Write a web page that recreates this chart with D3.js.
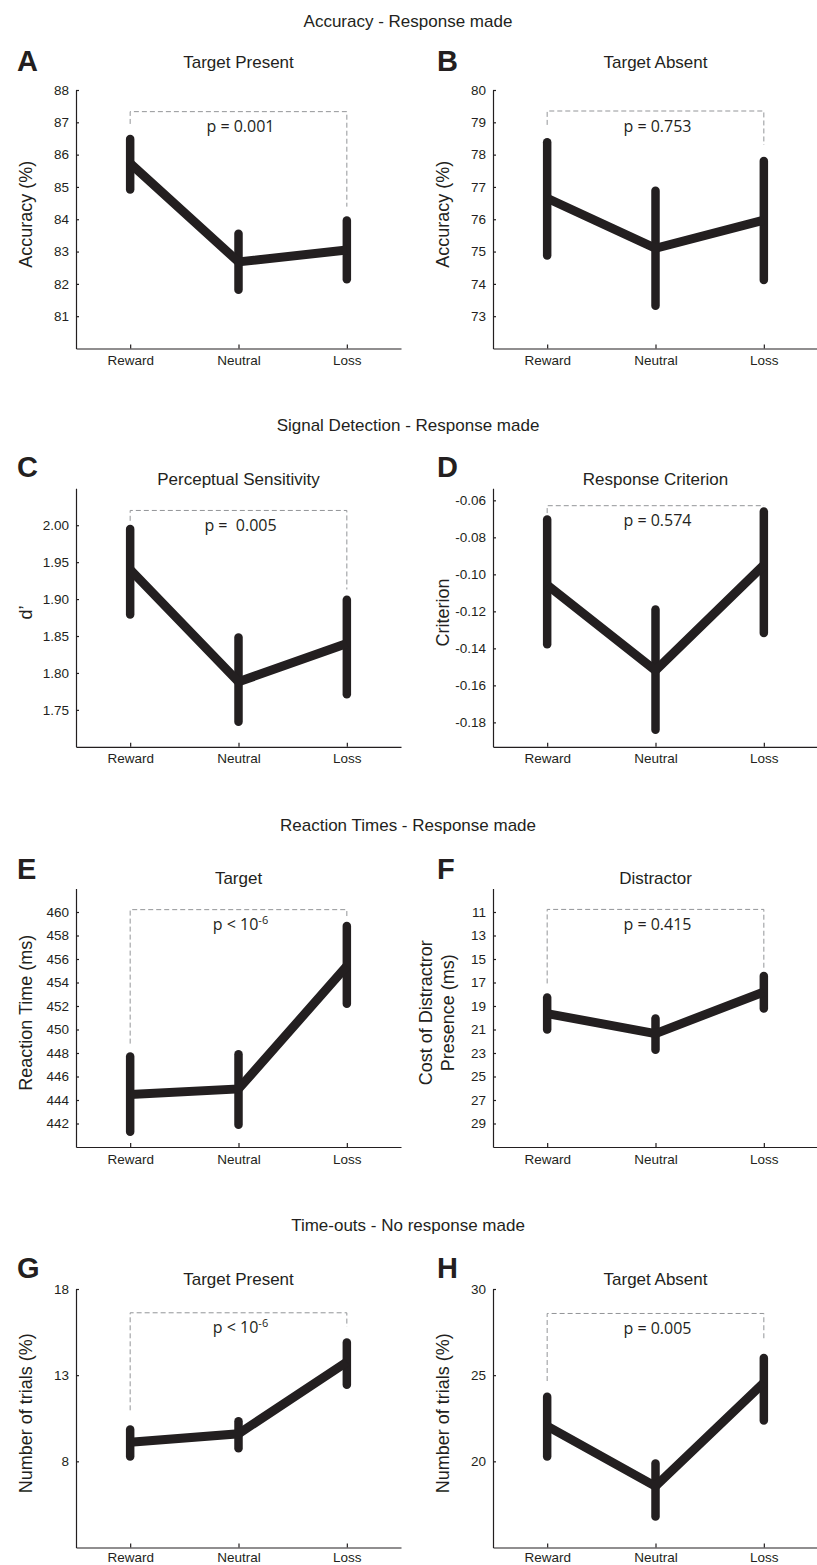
<!DOCTYPE html>
<html>
<head>
<meta charset="utf-8">
<script src="https://cdn.jsdelivr.net/npm/d3@7"></script>
<style>
  body { margin: 0; background: #fff; }
  svg text { font-family: "Liberation Sans", Arial, Helvetica, sans-serif; fill: #231f20; }
  svg text.ptext { font-family: "Open Sans", "Noto Sans", sans-serif; white-space: pre; }
</style>
</head>
<body>
<div id="chart"></div>
<script>
// ---- data ----
var conditions = ["Reward", "Neutral", "Loss"];

var sectionTitles = ["Accuracy - Response made", "Signal Detection - Response made",
                     "Reaction Times - Response made", "Time-outs - No response made"];

var panelLetters = ["A", "B", "C", "D", "E", "F", "G", "H"];
var panelTitles = ["Target Present", "Target Absent", "Perceptual Sensitivity", "Response Criterion",
                   "Target", "Distractor", "Target Present", "Target Absent"];
var yLabels = [["Accuracy (%)"], ["Accuracy (%)"], ["d\u2019"], ["Criterion"],
               ["Reaction Time (ms)"], ["Cost of Distractror", "Presence (ms)"],
               ["Number of trials (%)"], ["Number of trials (%)"]];

// F axis runs downwards (larger cost lower)
var yDomains = [[80, 88], [72, 80], [1.70, 2.05], [-0.1932, -0.0535],
                [440, 462], [31, 9], [3, 18], [15, 30]];

var yTicks = [
  [81, 82, 83, 84, 85, 86, 87, 88],
  [73, 74, 75, 76, 77, 78, 79, 80],
  [1.75, 1.80, 1.85, 1.90, 1.95, 2.00],
  [-0.18, -0.16, -0.14, -0.12, -0.10, -0.08, -0.06],
  [442, 444, 446, 448, 450, 452, 454, 456, 458, 460],
  [11, 13, 15, 17, 19, 21, 23, 25, 27, 29],
  [8, 13, 18],
  [20, 25, 30]
];
var yDecimals = [0, 0, 2, 2, 0, 0, 0, 0];

// means per condition (Reward, Neutral, Loss)
var means = [
  [85.73, 82.68, 83.05],
  [76.65, 75.10, 75.97],
  [1.940, 1.788, 1.840],
  [-0.1058, -0.152, -0.095],
  [444.46, 444.94, 455.4],
  [19.65, 21.35, 17.8],
  [9.11, 9.60, 13.77],
  [22.04, 18.55, 24.56]
];
var errLow = [
  [84.92, 81.82, 82.14],
  [74.88, 73.32, 74.12],
  [1.879, 1.734, 1.771],
  [-0.1378, -0.184, -0.1317],
  [441.3, 441.9, 452.2],
  [21.0, 22.72, 19.22],
  [8.28, 8.76, 12.45],
  [20.28, 16.8, 22.37]
];
var errHigh = [
  [86.48, 83.55, 83.96],
  [78.38, 76.88, 77.80],
  [1.995, 1.848, 1.899],
  [-0.0703, -0.119, -0.066],
  [447.7, 447.9, 458.8],
  [18.28, 20.07, 16.44],
  [9.85, 10.33, 14.9],
  [23.75, 19.87, 26.0]
];

// significance bracket: [level, left end, right end]
var brackets = [
  [87.33, 86.95, 84.39],
  [79.35, 78.92, 78.30],
  [2.020, 2.006, 1.913],
  [-0.0629, -0.0669, -0.063],
  [460.2, 448.8, 459.4],
  [10.78, 17.08, 15.95],
  [16.62, 10.96, 15.81],
  [28.58, 24.66, 26.99]
];
var pTexts = [["p = 0.001"], ["p = 0.753"], ["p =  0.005"], ["p = 0.574"],
              ["p < 10", "-6"], ["p = 0.415"], ["p < 10", "-6"], ["p = 0.005"]];

// ---- layout ----
var W = 817, H = 1565;
var rowTop = [90, 488.3, 888.5, 1289];
var titleY = [27, 431, 830.7, 1230.7];
var letterY = [71, 477.3, 879.3, 1278.3];
var subY = [68, 485, 884, 1285];
var xPad = [7, 7, 7, 5];
var colX = [76, 493];
var letterX = [17, 437];
var plotW = 325, plotH = 258.5;
var ink = "#231f20";

var svg = d3.select("#chart").append("svg")
  .attr("width", W)
  .attr("height", H);

sectionTitles.forEach(function(t, r) {
  svg.append("text")
    .attr("x", 408)
    .attr("y", titleY[r])
    .attr("text-anchor", "middle")
    .style("font-size", "17px")
    .text(t);
});

panelLetters.forEach(function(letter, i) {
  var r = Math.floor(i / 2), c = i % 2;

  svg.append("text")
    .attr("x", letterX[c])
    .attr("y", letterY[r])
    .style("font-size", "29px")
    .style("font-weight", "bold")
    .text(letter);

  var g = svg.append("g")
    .attr("transform", "translate(" + colX[c] + "," + rowTop[r] + ")");

  var x = d3.scalePoint().domain(conditions).range([0, plotW]).padding(0.5);
  var y = d3.scaleLinear().domain(yDomains[i]).range([plotH, 0]);

  g.append("text")
    .attr("x", plotW / 2)
    .attr("y", subY[r] - rowTop[r])
    .attr("text-anchor", "middle")
    .style("font-size", "17px")
    .text(panelTitles[i]);

  // axes
  var yAxis = d3.axisLeft(y)
    .tickValues(yTicks[i])
    .tickSizeInner(-3)
    .tickSizeOuter(0)
    .tickPadding(7)
    .tickFormat(function(d) { return d.toFixed(yDecimals[i]); });
  var xAxis = d3.axisBottom(x)
    .tickSizeInner(-4)
    .tickSizeOuter(0)
    .tickPadding(xPad[r]);

  var ya = g.append("g").call(yAxis);
  var xa = g.append("g").attr("transform", "translate(0," + plotH + ")").call(xAxis);
  [ya, xa].forEach(function(a) {
    a.attr("font-family", null).attr("font-size", null);
    a.selectAll("path, line").attr("stroke", ink).attr("stroke-width", 1.2);
    a.selectAll("text").style("font-size", "13.5px");
  });

  // y label
  var lines = yLabels[i];
  var offs = lines.length > 1 ? [-67, -45] : [-50];
  lines.forEach(function(t, k) {
    g.append("text")
      .attr("transform", "translate(" + offs[k] + "," + (plotH / 2 - 5) + ") rotate(-90)")
      .attr("text-anchor", "middle")
      .attr("dy", "0.35em")
      .style("font-size", "18px")
      .text(t);
  });

  // significance bracket
  var b = brackets[i];
  var xl = x("Reward"), xr = x("Loss");
  g.append("path")
    .attr("d", "M" + xl + "," + y(b[1]) + "V" + y(b[0]) + "H" + xr + "V" + y(b[2]))
    .attr("fill", "none")
    .attr("stroke", "#939598")
    .attr("stroke-width", 1)
    .attr("stroke-dasharray", "5,3");

  var pt = g.append("text")
    .attr("class", "ptext")
    .attr("x", x("Neutral") + 2)
    .attr("y", y(b[0]) + 20.5)
    .attr("text-anchor", "middle")
    .style("font-size", "16px");
  pt.append("tspan").text(pTexts[i][0]);
  if (pTexts[i][1]) {
    pt.append("tspan").attr("dy", -6).style("font-size", "11px").text(pTexts[i][1]);
  }

  // error bars
  g.selectAll(".err")
    .data(conditions)
    .enter()
    .append("line")
    .attr("class", "err")
    .attr("x1", function(d) { return x(d); })
    .attr("x2", function(d) { return x(d); })
    .attr("y1", function(d, j) { return y(errLow[i][j]); })
    .attr("y2", function(d, j) { return y(errHigh[i][j]); })
    .attr("stroke", ink)
    .attr("stroke-width", 8.5)
    .attr("stroke-linecap", "round");

  // mean line
  var line = d3.line()
    .x(function(d, j) { return x(conditions[j]); })
    .y(function(d) { return y(d); });
  g.append("path")
    .datum(means[i])
    .attr("d", line)
    .attr("fill", "none")
    .attr("stroke", ink)
    .attr("stroke-width", 9)
    .attr("stroke-linejoin", "miter");
});
</script>
</body>
</html>
